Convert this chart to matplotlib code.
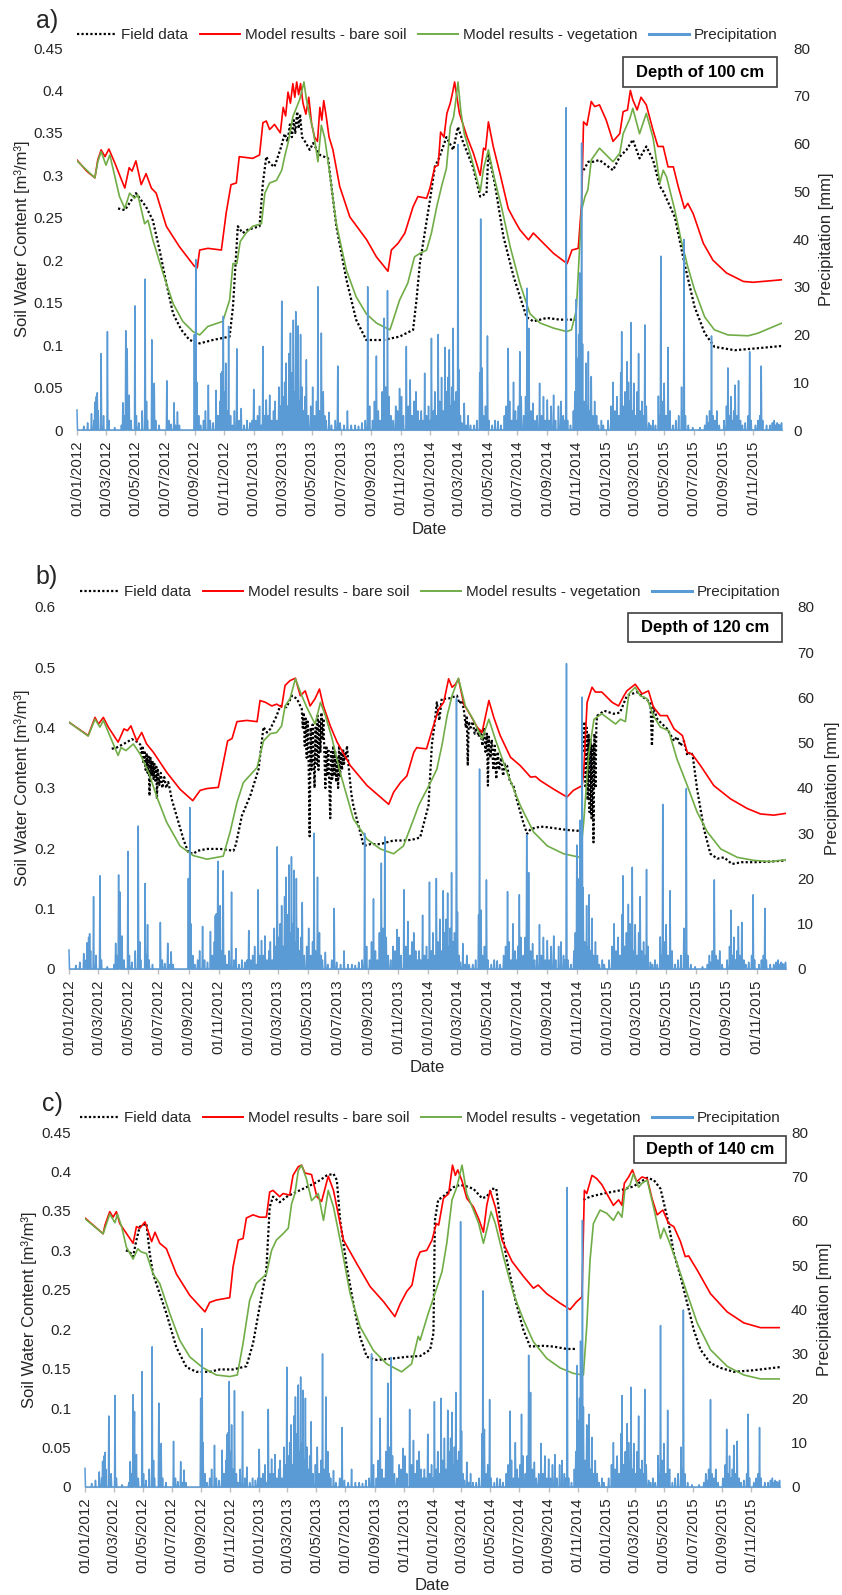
import numpy as np
import matplotlib
matplotlib.use('Agg')
import matplotlib.pyplot as plt
import matplotlib.dates as mdates
from matplotlib.patches import Rectangle
from matplotlib.lines import Line2D
from matplotlib.ticker import FuncFormatter

plt.rcParams['font.family'] = ['Liberation Sans', 'DejaVu Sans']

# day number counted from 01/01/2012, soil water content [m3/m3]
# --- a) depth 100 cm
a_bare = [(0,.318),(20,.305),(37,.297),(43,.318),(50,.330),(58,.322),(66,.331),(78,.315),(99,.285),(108,.309),
          (114,.305),(122,.317),(133,.289),(143,.302),(154,.285),(164,.279),(185,.240),(212,.216),(243,.193),
          (249,.191),(254,.212),(271,.214),(299,.212),(309,.256),(319,.289),(330,.291),(336,.322),(364,.320),
          (378,.324),(385,.362),(392,.364),(399,.354),(409,.360),(421,.350),(427,.380),(432,.370),(437,.398),
          (442,.385),(447,.408),(451,.392),(455,.410),(459,.395),(463,.408),(468,.385),(474,.372),(480,.392),
          (486,.360),(492,.345),(498,.340),(503,.380),(507,.365),(511,.388),(516,.370),(522,.345),(530,.330),
          (544,.287),(565,.251),(600,.224),(620,.204),(644,.187),(651,.212),(665,.220),(679,.232),(696,.263),
          (706,.275),(724,.273),(731,.285),(741,.310),(748,.312),(753,.351),(760,.345),(766,.373),(773,.385),
          (778,.398),(782,.410),(786,.395),(792,.373),(808,.345),(821,.326),(835,.300),(842,.332),(846,.330),
          (852,.363),(862,.334),(876,.302),(893,.261),(904,.249),(917,.236),(935,.224),(945,.232),(959,.224),
          (987,.208),(1015,.196),(1025,.212),(1038,.214),(1045,.267),(1049,.363),(1056,.359),(1065,.387),
          (1072,.381),(1082,.383),(1096,.365),(1110,.340),(1124,.349),(1131,.375),(1140,.377),(1146,.400),
          (1151,.389),(1160,.377),(1168,.392),(1179,.383),(1193,.353),(1203,.334),(1214,.334),(1224,.310),
          (1235,.310),(1245,.287),(1258,.261),(1265,.267),(1276,.255),(1297,.220),(1317,.200),(1345,.185),
          (1380,.175),(1400,.174),(1420,.175),(1460,.177)]
a_veg = [(0,.317),(37,.297),(43,.316),(50,.328),(60,.312),(68,.324),(88,.275),(99,.261),(109,.279),(119,.273),
         (126,.277),(140,.243),(147,.247),(157,.224),(178,.185),(199,.149),(219,.128),(240,.116),(254,.112),
         (271,.122),(302,.128),(316,.153),(323,.196),(331,.196),(338,.222),(350,.232),(364,.240),(382,.243),
         (389,.279),(399,.291),(413,.294),(424,.306),(430,.322),(437,.338),(447,.369),(461,.389),(466,.400),
         (470,.410),(475,.390),(482,.370),(489,.353),(499,.316),(506,.359),(513,.344),(523,.304),(537,.243),
         (558,.188),(578,.157),(599,.137),(620,.126),(648,.118),(655,.130),(668,.153),(685,.173),(699,.204),
         (710,.208),(724,.212),(734,.232),(745,.263),(755,.287),(765,.308),(773,.357),(780,.369),(786,.395),
         (789,.410),(795,.375),(802,.349),(816,.322),(835,.281),(842,.308),(852,.330),(862,.302),(879,.263),
         (897,.216),(917,.173),(938,.137),(959,.126),(987,.120),(1014,.116),(1024,.118),(1034,.141),(1045,.259),
         (1052,.275),(1058,.283),(1065,.318),(1082,.332),(1096,.324),(1110,.316),(1124,.326),(1131,.349),
         (1145,.367),(1151,.379),(1165,.349),(1179,.373),(1193,.344),(1207,.291),(1214,.306),(1221,.298),
         (1238,.259),(1251,.224),(1265,.192),(1279,.165),(1300,.133),(1320,.118),(1348,.112),(1390,.111),
         (1410,.114),(1460,.126)]
a_field = [(85,.261),(99,.259),(113,.271),(122,.279),(143,.263),(157,.247),(171,.212),(185,.173),(199,.137),
           (216,.118),(233,.106),(254,.102),(281,.106),(316,.110),(323,.145),(333,.240),(343,.232),(354,.236),
           (378,.240),(385,.291),(392,.322),(399,.314),(409,.310),(423,.334),(430,.349),(436,.340),(441,.360),
           (445,.345),(449,.365),(452,.350),(456,.375),(459,.355),(462,.372),(466,.345),(472,.340),(482,.330),
           (489,.338),(503,.324),(520,.320),(537,.240),(558,.177),(578,.130),(599,.106),(634,.106),(668,.110),
           (696,.118),(703,.153),(710,.196),(731,.271),(741,.310),(751,.322),(765,.345),(779,.330),(789,.357),
           (799,.340),(820,.310),(835,.275),(848,.279),(852,.326),(865,.291),(883,.228),(904,.181),(931,.133),
           (945,.128),(973,.132),(1000,.130),(1034,.130),(1040,np.nan),(1049,.306),(1059,.316),(1069,.316),
           (1082,.318),(1110,.306),(1124,.322),(1138,.330),(1151,.342),(1165,.320),(1179,.334),(1193,.318),
           (1207,.287),(1214,.281),(1238,.251),(1258,.196),(1279,.145),(1300,.114),(1320,.098),(1362,.094),
           (1403,.096),(1460,.099)]

# --- b) depth 120 cm
b_bare = [(0,.409),(39,.387),(53,.417),(60,.406),(70,.417),(80,.401),(100,.376),(112,.398),(119,.395),(126,.403),
          (138,.378),(148,.392),(158,.373),(172,.359),(199,.326),(226,.298),(252,.279),(267,.296),(280,.299),
          (304,.301),(311,.329),(323,.378),(332,.382),(342,.410),(362,.412),(383,.410),(389,.445),(400,.442),
          (413,.436),(423,.439),(433,.434),(440,.470),(450,.478),(461,.482),(471,.453),(481,.461),(491,.436),
          (501,.448),(510,.464),(518,.436),(532,.403),(546,.376),(573,.337),(607,.304),(634,.285),(651,.273),
          (661,.293),(675,.309),(688,.320),(702,.359),(708,.367),(715,.366),(728,.365),(742,.403),(753,.431),
          (763,.442),(773,.481),(780,.467),(787,.472),(793,.481),(804,.439),(818,.420),(831,.401),(841,.392),
          (855,.445),(865,.417),(878,.387),(899,.351),(919,.337),(940,.318),(950,.319),(960,.312),(987,.298),
          (1014,.285),(1027,.296),(1045,.304),(1048,.326),(1055,.442),(1065,.467),(1072,.459),(1085,.459),
          (1106,.442),(1119,.436),(1130,.453),(1136,.461),(1153,.472),(1167,.456),(1180,.461),(1190,.434),
          (1204,.420),(1218,.420),(1232,.398),(1249,.387),(1259,.359),(1269,.356),(1286,.337),(1313,.304),
          (1347,.282),(1381,.266),(1408,.257),(1435,.255),(1460,.258)]
b_veg = [(0,.409),(39,.386),(53,.414),(63,.401),(70,.412),(100,.354),(106,.367),(116,.362),(131,.373),(145,.356),
         (162,.326),(179,.285),(199,.243),(226,.204),(253,.188),(281,.182),(314,.187),(328,.227),(342,.276),
         (355,.309),(383,.334),(396,.378),(410,.390),(423,.392),(433,.403),(440,.436),(450,.448),(461,.481),
         (474,.453),(484,.434),(501,.406),(512,.442),(522,.420),(535,.384),(552,.326),(579,.249),(607,.215),
         (634,.199),(661,.191),(681,.204),(702,.249),(712,.271),(715,.276),(736,.309),(749,.331),(760,.373),
         (770,.420),(780,.453),(793,.482),(807,.436),(824,.412),(841,.381),(855,.414),(868,.381),(892,.326),
         (919,.271),(946,.227),(974,.204),(1007,.191),(1041,.185),(1048,.243),(1058,.354),(1069,.414),
         (1085,.423),(1113,.406),(1123,.414),(1133,.410),(1140,.456),(1153,.467),(1163,.453),(1177,.448),
         (1190,.420),(1204,.401),(1221,.395),(1238,.348),(1259,.304),(1279,.260),(1300,.227),(1327,.199),
         (1361,.185),(1395,.180),(1428,.178),(1460,.181)]
b_field = [(87,.365),(97,.367),(118,.376),(128,.381),(140,.376),(145,.372),(148,.355),(150,.370),(152,.340),
           (154,.362),(156,.330),(158,.358),(160,.325),(162,.352),(164,.287),(166,.350),(168,.320),(170,.345),
           (172,.315),(174,.340),(176,.312),(178,.335),(179,.282),(181,.330),(184,.305),(187,.325),(190,.300),
           (194,.318),(198,.300),(202,.310),(206,.295),(209,.282),(219,.254),(233,.215),(243,.193),(253,.191),
           (262,.196),(281,.199),(308,.199),(335,.196),(340,.207),(352,.254),(369,.287),(386,.331),(396,.401),
           (403,.392),(410,.398),(423,.420),(430,.436),(443,.434),(454,.453),(464,.448),(474,.431),(476,.400),
           (478,.425),(480,.370),(482,.415),(484,.350),(486,.410),(488,.340),(490,.220),(492,.400),(494,.330),
           (496,.405),(498,.360),(500,.300),(502,.400),(504,.340),(506,.420),(508,.330),(510,.410),(512,.360),
           (514,.425),(516,.380),(518,.415),(520,.360),(522,.300),(524,.370),(526,.320),(528,.365),(530,.310),
           (532,.250),(534,.360),(536,.315),(538,.370),(540,.320),(542,.360),(544,.310),(546,.350),(548,.300),
           (550,.370),(552,.320),(554,.360),(556,.330),(558,.365),(560,.340),(562,.360),(564,.350),(566,.370),
           (570,.330),(575,.290),(579,.271),(600,.204),(614,.207),(634,.207),(661,.213),(688,.213),(702,.215),
           (715,.218),(732,.271),(739,.373),(744,.403),(749,.442),(754,.412),(759,.448),(772,.448),(790,.453),
           (795,.440),(800,.445),(804,.430),(808,.400),(810,.420),(812,.337),(814,.410),(818,.400),(822,.410),
           (826,.390),(830,.400),(834,.385),(838,.395),(842,.370),(845,.400),(848,.360),(851,.390),(853,.304),
           (855,.385),(858,.350),(861,.380),(864,.330),(867,.370),(870,.315),(873,.360),(876,.330),(880,.350),
           (884,.320),(888,.340),(892,.337),(898,.310),(905,.304),(912,.280),(919,.260),(926,.240),(933,.224),
           (940,.232),(960,.236),(974,.235),(1000,.232),(1020,.230),(1038,.229),(1044,np.nan),(1048,.360),
           (1050,.410),(1052,.300),(1054,.400),(1056,.280),(1058,.390),(1060,.260),(1062,.380),(1064,.250),
           (1066,.370),(1068,.210),(1070,.390),(1072,.300),(1074,.410),(1076,.420),(1090,.428),(1109,.423),
           (1122,.425),(1136,.453),(1157,.459),(1170,.450),(1184,.442),(1187,.370),(1190,.434),(1198,.414),
           (1218,.398),(1232,.378),(1238,.385),(1245,.370),(1252,.378),(1259,.354),(1266,.360),(1270,.354),
           (1279,.298),(1293,.232),(1306,.191),(1320,.183),(1334,.185),(1350,.174),(1370,.177),(1395,.177),
           (1428,.178),(1460,.180)]

# --- c) depth 140 cm
c_bare = [(0,.341),(38,.321),(42,.332),(52,.349),(59,.342),(66,.349),(73,.334),(101,.309),(108,.330),(115,.328),
          (126,.336),(140,.311),(147,.323),(157,.309),(171,.302),(192,.270),(220,.243),(252,.222),(262,.234),
          (276,.237),(304,.240),(311,.279),(322,.313),(332,.315),(339,.341),(353,.345),(367,.342),(381,.342),
          (388,.374),(395,.376),(409,.368),(416,.372),(430,.370),(437,.395),(448,.406),(455,.408),(462,.398),
          (476,.396),(487,.368),(497,.362),(511,.394),(522,.376),(543,.313),(571,.283),(599,.254),(627,.235),
          (651,.216),(662,.232),(676,.248),(687,.256),(697,.288),(704,.298),(718,.300),(729,.313),(738,.334),
          (743,.332),(753,.366),(764,.372),(772,.408),(778,.395),(783,.402),(792,.388),(802,.366),(816,.355),
          (827,.340),(837,.323),(844,.357),(851,.376),(862,.355),(876,.313),(897,.286),(921,.267),(942,.252),
          (952,.256),(970,.245),(998,.233),(1019,.225),(1033,.235),(1044,.241),(1049,.376),(1054,.372),
          (1065,.395),(1075,.391),(1086,.383),(1096,.372),(1110,.357),(1121,.364),(1128,.357),(1133,.385),
          (1142,.393),(1150,.402),(1159,.387),(1170,.393),(1181,.391),(1191,.366),(1202,.345),(1214,.351),
          (1226,.334),(1237,.330),(1251,.311),(1261,.292),(1268,.293),(1286,.275),(1314,.245),(1349,.222),
          (1384,.208),(1419,.202),(1460,.202)]
c_veg = [(0,.340),(38,.321),(52,.346),(63,.335),(68,.346),(77,.330),(87,.304),(101,.289),(111,.302),(118,.298),
         (129,.296),(143,.270),(157,.258),(178,.220),(199,.186),(220,.165),(248,.151),(276,.142),(304,.140),
         (320,.142),(332,.182),(346,.237),(360,.258),(381,.270),(392,.300),(402,.313),(416,.321),(427,.328),
         (434,.359),(441,.372),(448,.401),(455,.408),(465,.391),(476,.363),(490,.372),(501,.338),(511,.376),
         (522,.355),(536,.313),(557,.245),(578,.203),(606,.173),(634,.156),(665,.146),(686,.156),(700,.191),
         (704,.186),(721,.220),(735,.245),(750,.273),(760,.309),(771,.364),(781,.380),(792,.408),(802,.372),
         (816,.351),(827,.334),(837,.309),(844,.326),(853,.349),(862,.334),(879,.292),(900,.245),(921,.212),
         (942,.184),(970,.163),(998,.151),(1026,.144),(1047,.142),(1054,.203),(1061,.288),(1068,.334),
         (1082,.351),(1096,.347),(1110,.338),(1120,.349),(1128,.342),(1134,.376),(1145,.383),(1152,.397),
         (1163,.380),(1170,.385),(1181,.389),(1195,.353),(1209,.315),(1216,.328),(1226,.313),(1244,.283),
         (1265,.245),(1286,.208),(1314,.174),(1349,.153),(1384,.142),(1419,.137),(1460,.137)]
c_field = [(86,.300),(94,.298),(101,.292),(108,.313),(115,.330),(129,.334),(136,.296),(143,.270),(157,.245),
           (171,.220),(192,.177),(213,.152),(234,.146),(262,.146),(283,.149),(311,.149),(339,.153),(353,.182),
           (367,.229),(381,.275),(388,.355),(395,.368),(409,.361),(424,.368),(437,.372),(451,.376),(465,.380),
           (479,.384),(494,.389),(508,.395),(522,.397),(529,.389),(536,.338),(550,.279),(564,.232),(578,.190),
           (592,.165),(613,.161),(648,.163),(676,.165),(704,.166),(725,.174),(732,.195),(735,.338),(742,.364),
           (752,.368),(763,.374),(774,.380),(788,.383),(802,.381),(816,.378),(834,.366),(844,.368),(855,.378),
           (864,.378),(872,.338),(886,.288),(904,.237),(921,.199),(935,.178),(963,.179),(984,.178),(1012,.175),
           (1033,.175),(1040,np.nan),(1047,.364),(1061,.368),(1089,.372),(1124,.376),(1152,.381),(1181,.392),
           (1195,.389),(1209,.378),(1216,.360),(1226,.334),(1237,.296),(1251,.267),(1265,.233),(1279,.199),
           (1293,.174),(1314,.157),(1335,.151),(1363,.146),(1405,.148),(1460,.152)]

# daily precipitation [mm], days without an entry had no rain
rain = [(0,4.2),(14,.8),(22,1.5),(30,3.4),(35,2),(37,5.8),(40,7),(42,7.8),(44,4),(50,16),(55,3),(63,20.6),(66,2),
        (78,.5),(92,1),(95,5.7),(97,3),(101,20.8),(103,9),(104,17),(106,4),(108,7.3),(112,2),(120,26),(123,3),
        (128,1.5),(135,4),(141,31.6),(144,6),(146,2),(155,18.9),(158,3),(160,9.8),(163,2),(170,1),(186,10.3),
        (190,2),(195,1.2),(201,5.7),(204,1),(208,3.8),(212,1),(243,20),(246,35.7),(248,10),(252,3),(256,1),
        (262,2),(266,4),(272,9.4),(276,2),(282,1.5),(288,8.3),(292,3),(296,6),(298,11.8),(300,12.2),(303,23.8),
        (305,8),(308,14),(311,4),(314,21.7),(318,3),(322,1),(326,4),(331,17),(336,2),(340,4.5),(346,1),(352,2),
        (358,1.5),(363,2),
        (366,8.5),(370,2),(374,3),(378,5),(382,1),(385,17.5),(388,3),(392,6.3),(396,3),(399,7.3),(403,2),(407,4),
        (410,6),(414,2),(418,9),(421,5),(424,27),(427,7),(430,10),(433,14),(436,5),(439,16),(442,20.3),(445,12),
        (448,23),(450,8),(453,24.8),(455,10),(458,21.8),(461,6),(463,20),(466,9),(469,4),(472,7),(475,14.7),
        (479,3),(484,5),(488,9),(492,3),(496,6),(499,30),(502,4),(506,20.3),(510,8),(513,3),(516,2),(522,3.7),
        (527,1),(535,2),(540,13.4),(545,1.5),(553,1),(560,4),(568,1),(576,1),(583,.8),(590,1.5),(597,2),(602,30),
        (606,5),(612,2),(616,6),(620,15.5),(624,4),(628,2),(632,8),(636,23.4),(639,9),(643,29.2),(646,7),(650,3),
        (655,2),(660,5),(664,4),(668,8.7),(672,7),(676,3),(682,17.5),(686,5),(690,10.5),(694,3),(698,6),(702,8),
        (706,4),(710,2),
        (713,4),(716,2),(720,11.9),(724,3),(728,5),(731,2),(734,19.2),(738,4),(741,8),(744,3),(748,20),(751,6),
        (755,11),(758,4),(762,17.3),(765,8),(768,11),(771,16.8),(774,5),(776,9),(779,21.3),(782,6),(785,8),
        (789,59.8),(791,12.6),(794,3),(797,1.5),(802,5.6),(806,1),(810,3),(815,1),(822,1),(828,2),(834,12),
        (836,44.2),(839,13),(842,3),(846,5),(850,19.7),(853,2),(860,1),(866,2),(872,1.8),(878,1),(885,3),(889,5),
        (893,17.1),(896,6),(900,2),(904,10),(908,4),(912,2),(914,5),(917,16.4),(920,7),(925,3),(929,7),(932,29.7),
        (934,12),(936,21.3),(940,4),(944,5.6),(948,2),(953,3),(958,9.8),(962,3),(966,7),(970,2),(974,6.3),(978,2),
        (982,5),(987,7.3),(991,2),(997,5),(1002,6),(1007,3),(1010,2),(1013,67.5),(1016,2),(1022,1),(1028,4),
        (1031,8),(1034,27.4),(1037,15),(1039,20),(1041,32.9),(1043,25),(1045,60.1),(1047,18),(1050,6),(1054,14),
        (1057,5),(1059,16.4),(1062,4),(1065,11.2),(1068,3),(1072,6),(1076,3),(1080,1),(1086,2),(1090,1),
        (1100,2),(1106,5),(1110,10),(1114,4),(1118,7),(1122,3),(1126,12),(1128,20.6),(1131,5),(1135,8),(1139,14.3),
        (1142,10),(1145,6),(1147,22.5),(1150,4),(1153,9.8),(1157,3),(1160,8),(1163,16),(1166,4),(1170,6),(1173,3),
        (1176,22),(1179,5),(1184,1.5),(1188,1),(1193,2),(1198,1),(1204,7.1),(1207,3),(1209,36.4),(1212,6),
        (1216,9.8),(1220,3),(1224,17.3),(1228,4),(1234,1),(1240,2),(1246,3),(1252,9),(1255,4),(1257,39.9),
        (1260,3),(1266,1),(1275,.5),(1290,.5),(1300,1),(1304,3),(1307,1.5),(1310,4),(1314,19.7),(1317,3),(1321,2),
        (1325,4),(1330,1),(1340,2),(1345,5),(1348,13),(1351,3),(1354,7),(1357,2),(1360,4),(1363,9.4),(1366,3),
        (1370,10.3),(1374,2),(1378,1),(1384,1.5),(1390,3),(1393,16.4),(1396,2),(1405,1),(1410,2),(1414,3),
        (1417,13.4),(1420,2),(1428,1),(1435,1),(1440,1.5),(1444,2),(1447,1),(1450,1.5),(1453,1.2),(1456,1),
        (1459,1.5)]

legend_labels = ['Field data', 'Model results - bare soil', 'Model results - vegetation', 'Precipitation']

W, H = 842, 1595
fig = plt.figure(figsize=(W / 100, H / 100), dpi=100)
start = np.datetime64('2012-01-01')
TXT = '#262626'


def fx(x):
    return x / W


def fy(y):
    return 1 - y / H


def dates(days):
    return start + np.asarray(days, dtype=int).astype('timedelta64[D]')


def xy(pairs):
    d = [p[0] for p in pairs]
    v = [p[1] for p in pairs]
    return dates(d), np.array(v, dtype=float)


rain_mm = np.zeros(1461)
for d, mm in rain:
    rain_mm[d] = mm
rain_days = dates(np.arange(1461))


def fmt(v, _):
    s = ('%.2f' % v).rstrip('0').rstrip('.')
    return s


def panel(box, bare, veg, field, ymax, ystep, tag, tagpos, legy, legx, depth, dbox, ylx, y2x, datey):
    l, t, r, b = box
    ax = fig.add_axes([fx(l), fy(b), (r - l) / W, (b - t) / H])
    x, y = xy(field)
    ax.plot(x, y, color='black', lw=1.6, ls=(0, (1, 1)))
    x, y = xy(bare)
    ax.plot(x, y, color='#FF0000', lw=1.2)
    x, y = xy(veg)
    ax.plot(x, y, color='#70AD47', lw=1.2)
    ax.set_xlim(start, np.datetime64('2015-12-31'))
    ax.set_ylim(0, ymax)
    ax.set_yticks(np.arange(0, ymax + ystep / 2, ystep))
    ax.yaxis.set_major_formatter(FuncFormatter(fmt))
    ax.xaxis.set_major_locator(mdates.MonthLocator(bymonth=(1, 3, 5, 7, 9, 11)))
    ax.xaxis.set_major_formatter(mdates.DateFormatter('%d/%m/%Y'))
    for s in ['top', 'left', 'right']:
        ax.spines[s].set_visible(False)
    ax.spines['bottom'].set_color('#BFBFBF')
    ax.tick_params(axis='y', length=0, pad=10, labelsize=11, labelcolor=TXT)
    ax.tick_params(axis='x', length=3.5, width=1, color='#BFBFBF', pad=4, labelsize=10.8,
                   labelrotation=90, labelcolor=TXT)

    ax2 = ax.twinx()
    ax2.plot(rain_days, rain_mm, color='#5B9BD5', lw=1.1, clip_on=False)
    ax2.set_ylim(0, 80)
    ax2.set_yticks(range(0, 81, 10))
    for s in ax2.spines.values():
        s.set_visible(False)
    ax2.tick_params(axis='y', length=0, pad=8, labelsize=11, labelcolor=TXT)
    ax2.set_xlim(ax.get_xlim())

    fig.text(fx(tagpos[0]), fy(tagpos[1]), tag, fontsize=18, ha='left', va='center', color=TXT)
    fig.text(fx(ylx), fy((t + b) / 2), 'Soil Water Content [m³/m³]', rotation=90,
             ha='center', va='center', fontsize=12, color=TXT)
    fig.text(fx(y2x), fy((t + b) / 2), 'Precipitation [mm]', rotation=90,
             ha='center', va='center', fontsize=12, color=TXT)
    fig.text(fx((l + r) / 2), fy(datey), 'Date', ha='center', va='center', fontsize=12, color=TXT)

    x0, y0, x1, y1 = dbox
    fig.add_artist(Rectangle((fx(x0), fy(y1)), (x1 - x0) / W, (y1 - y0) / H, transform=fig.transFigure,
                             fill=False, ec='#404040', lw=1.2))
    fig.text(fx((x0 + x1) / 2), fy((y0 + y1) / 2), depth, ha='center', va='center',
             fontsize=12, fontweight='bold', color='black')

    handles = [Line2D([], [], color='black', lw=1.6, ls=(0, (1, 1))),
               Line2D([], [], color='#FF0000', lw=1.4),
               Line2D([], [], color='#70AD47', lw=1.4),
               Line2D([], [], color='#5B9BD5', lw=2.2)]
    leg = fig.legend(handles, legend_labels, loc='center', bbox_to_anchor=(fx(legx), fy(legy)), ncol=4,
                     frameon=False, fontsize=11, handlelength=2.6, handletextpad=0.3, columnspacing=0.8,
                     borderpad=0, borderaxespad=0)
    for tx in leg.get_texts():
        tx.set_color(TXT)


panel((77, 48, 782, 430), a_bare, a_veg, a_field, 0.45, 0.05, 'a)', (36, 21), 35, 427,
      'Depth of 100 cm', (623, 57, 777, 87), 22, 827, 530)
panel((69, 607, 786, 969), b_bare, b_veg, b_field, 0.6, 0.1, 'b)', (35, 577), 592, 430,
      'Depth of 120 cm', (628, 613, 782, 642), 22, 833, 1068)
panel((85, 1132, 780, 1487), c_bare, c_veg, c_field, 0.45, 0.05, 'c)', (42, 1104), 1118, 430,
      'Depth of 140 cm', (634, 1136, 786, 1163), 29, 824, 1585)

fig.savefig('out.png', dpi=100)
